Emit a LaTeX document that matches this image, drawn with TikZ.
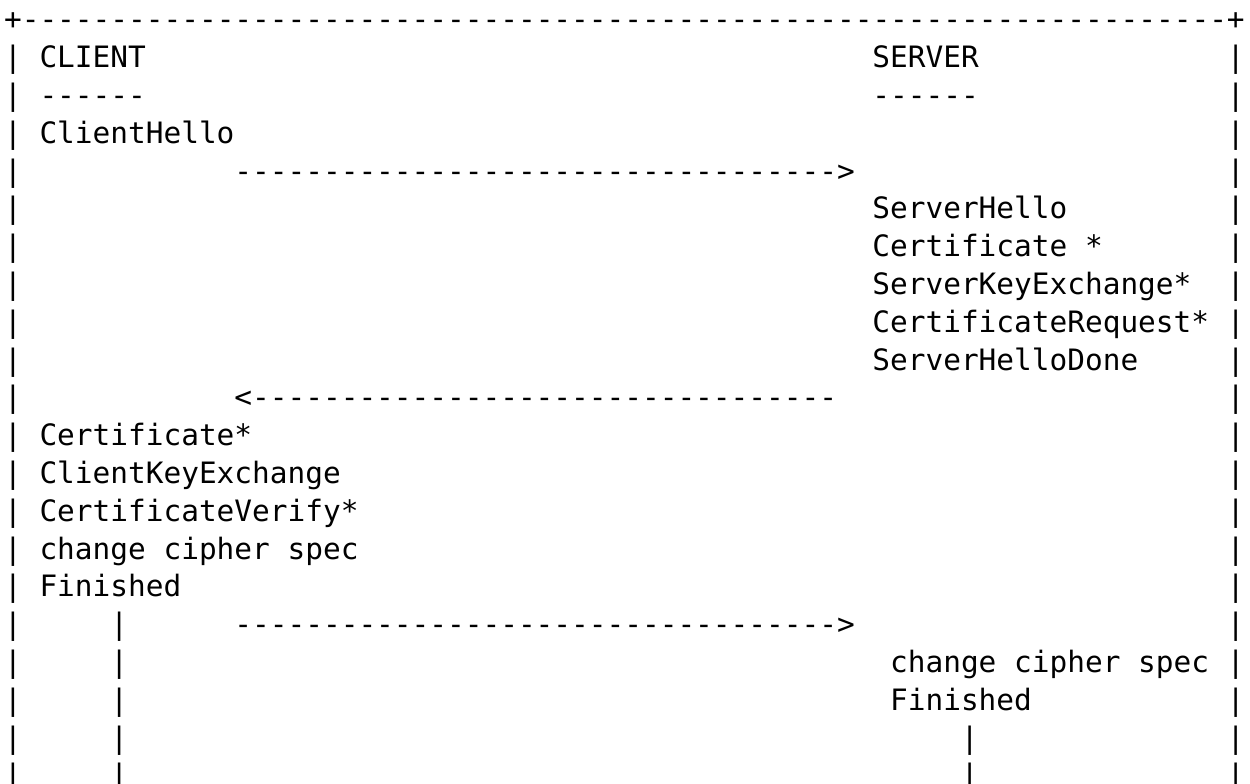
\documentclass[tikz,border=0pt]{standalone}
\usepackage{fontspec}
\setmonofont{DejaVu Sans Mono}
\newcommand\hyphenrun[1]{\foreach \i in {1,...,#1}{-}}
\begin{document}
\begin{tikzpicture}[x=8.86pt,y=-18.9pt]

    \tikzset{
      glyph/.style={
        anchor=base west,
        inner sep=0pt,
        outer sep=0pt,
        font=\ttfamily\fontsize{14.72pt}{18pt}\selectfont,
      },
    }
    \fill[white] (0,0) rectangle (70.54,20.74);
    \useasboundingbox (0,0) rectangle (70.54,20.74);
	% frame
	\draw (0.23,0.79) node[glyph] (frametop) {+\hyphenrun{68}+};
	\foreach \r in {1,...,20}{
	  \draw (0.23,0.79+\r) node[glyph] (frameleft-\r) {|};
	  \draw (69.23,0.79+\r) node[glyph] (frameright-\r) {|};
	}
	% client side
	\draw (2.23,1.79) node[glyph] (client) {CLIENT};
	\draw (2.23,2.79) node[glyph] (clientrule) {\hyphenrun{6}};
	\draw (2.23,3.79) node[glyph] (clienthello) {ClientHello};
	\draw (2.23,11.79) node[glyph] (clientcert) {Certificate*};
	\draw (2.23,12.79) node[glyph] (clientkex) {ClientKeyExchange};
	\draw (2.23,13.79) node[glyph] (certverify) {CertificateVerify*};
	\draw (2.23,14.79) node[glyph] (clientccs) {change cipher spec};
	\draw (2.23,15.79) node[glyph] (clientfin) {Finished};
	\foreach \r in {16,...,20}{
	  \draw (6.23,0.79+\r) node[glyph] (clientline-\r) {|};
	}
	% server side
	\draw (49.23,1.79) node[glyph] (server) {SERVER};
	\draw (49.23,2.79) node[glyph] (serverrule) {\hyphenrun{6}};
	\draw (49.23,5.79) node[glyph] (serverhello) {ServerHello};
	\draw (49.23,6.79) node[glyph] (servercert) {Certificate *};
	\draw (49.23,7.79) node[glyph] (serverkex) {ServerKeyExchange*};
	\draw (49.23,8.79) node[glyph] (certrequest) {CertificateRequest*};
	\draw (49.23,9.79) node[glyph] (hellodone) {ServerHelloDone};
	\draw (50.23,17.79) node[glyph] (serverccs) {change cipher spec};
	\draw (50.23,18.79) node[glyph] (serverfin) {Finished};
	\foreach \r in {19,20}{
	  \draw (54.23,0.79+\r) node[glyph] (serverline-\r) {|};
	}
	% messages
	\draw (13.23,4.79) node[glyph] (flightone) {\hyphenrun{34}>};
	\draw (13.23,10.79) node[glyph] (flighttwo) {<\hyphenrun{33}};
	\draw (13.23,16.79) node[glyph] (flightthree) {\hyphenrun{34}>};

\end{tikzpicture}
\end{document}
